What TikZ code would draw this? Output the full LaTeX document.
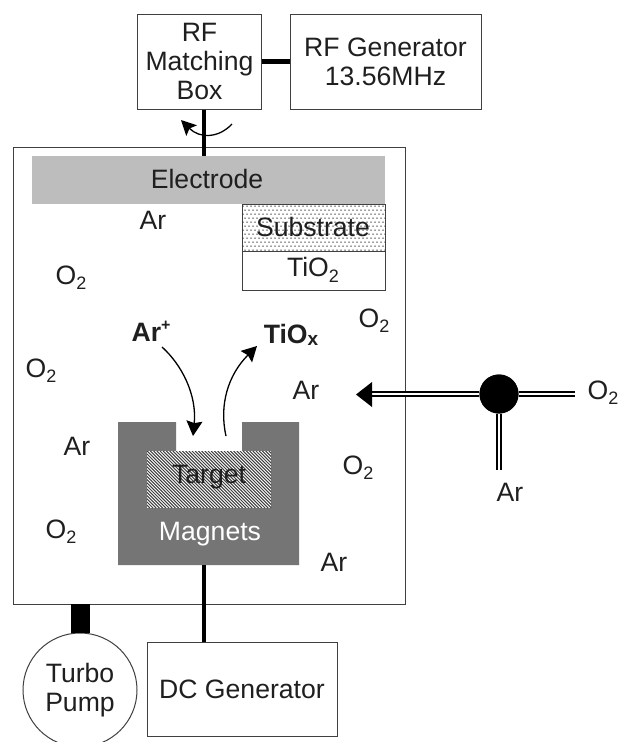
\documentclass[tikz,border=0pt]{standalone}
\usepackage{fontspec}
\setmainfont{Liberation Sans}
\usetikzlibrary{arrows.meta}
\definecolor{edge}{gray}{0.25}
\definecolor{electrodegray}{gray}{0.74}
\definecolor{magnetgray}{gray}{0.46}
\tikzset{
  x=1pt,y=-1pt,
  lbl/.style={inner sep=0pt,font=\fontsize{26.6}{30}\selectfont,align=center,text=black!88},
  boldlbl/.style={lbl,font=\fontsize{26.6}{30}\selectfont\bfseries},
  boxnode/.style={draw=edge,line width=1pt,fill=white,inner sep=0pt,lbl},
  thick link/.style={line width=4.5pt,black},
  pipe/.style={double=white,draw=black,line width=1.8pt,double distance=2pt},
  curved/.style={line width=1.3pt,black},
}
\newcommand{\sub}[1]{\raisebox{-0.2em}{\fontsize{18}{18}\selectfont #1}}
\begin{document}
\begin{tikzpicture}
\useasboundingbox (0,0) rectangle (619,742);
\clip (0,0) rectangle (619,742);
\fill[white] (0,0) rectangle (619,742);
% chamber
\node[draw=edge,line width=1pt,minimum width=392pt,minimum height=457pt,inner sep=0pt] (chamber) at (209,375.5) {};
% electrode
\node[fill=electrodegray,minimum width=353pt,minimum height=48pt,inner sep=0pt] (electrode) at (208.5,180) {};
\node[lbl] (electrodetext) at (207,179) {Electrode};
% RF
\node[boxnode,minimum width=123.5pt,minimum height=95pt] (match) at (199.5,61.5) {RF\\[-1pt]Matching\\[-1pt]Box};
\node[boxnode,minimum width=191pt,minimum height=95pt] (rfgen) at (385.5,61.5) {RF Generator\\[-1pt]13.56MHz};
\draw[thick link] (match.east) -- (rfgen.west);
\draw[thick link] (match.south -| 204,0) -- (204,156);
\coordinate (rotA) at (232,124);
\coordinate (rotB) at (181,120);
\draw[curved,-{Stealth[length=15pt,width=15pt,inset=3pt]}] (rotA) .. controls (219,138) and (200,139) .. (rotB);
% substrate
\node[draw=edge,line width=0.7pt,fill=white,minimum width=143pt,minimum height=47pt,inner sep=0pt] (substrate) at (313.5,227.5) {};
\begin{scope}
\clip (242,204) rectangle (385,251);
\foreach \y in {0,...,11}{\foreach \x in {0,...,35}{
  \fill[black!80] ({243+4*\x+mod(\y,2)*2},{206+4*\y}) circle (0.75);
}}
\end{scope}
\node[lbl] (substratetext) at (313,227) {Substrate};
\node[boxnode,minimum width=143pt,minimum height=39pt] (tio) at (313.5,270.5) {};
\node[lbl] (tiotext) at (313,270) {TiO\sub{2}};
% gases
\node[lbl] (a1) at (153,220) {Ar};
\node[lbl] (o1) at (71,278) {O\sub{2}};
\node[boldlbl] (arplus) at (151,331) {Ar\raisebox{0.42em}{\fontsize{16}{16}\selectfont\bfseries +}};
\node[boldlbl] (tiox) at (291,335) {TiO\raisebox{-0.1em}{\fontsize{19}{19}\selectfont\bfseries x}};
\node[lbl] (o2) at (374,321) {O\sub{2}};
\node[lbl] (o3) at (41,371) {O\sub{2}};
\node[lbl] (a2) at (306,390) {Ar};
\node[lbl] (a3) at (77,446) {Ar};
\node[lbl] (o4) at (358,468) {O\sub{2}};
\node[lbl] (o5) at (61,532) {O\sub{2}};
\node[lbl] (a4) at (334,562) {Ar};
% magnets
\fill[magnetgray] (118,422) -- (176,422) -- (176,451) -- (242,451) -- (242,422) -- (299,422) -- (299,565) -- (118,565) -- cycle;
\coordinate (magnetsbottom) at (204,565);
\begin{scope}
\clip (147,451) rectangle (271,508);
\fill[white] (147,451) rectangle (271,508);
\foreach \i in {0,...,70}{
  \draw[black!75,line width=1pt] ({80+3.2*\i},451) -- ({80+3.2*\i+57},508);
}
\end{scope}
\node[lbl] (targettext) at (209,477) {Target};
\node[lbl,text=white] (magnetstext) at (210,534) {Magnets};
% ion arrows
\coordinate (arstart) at (162,347);
\coordinate (artip) at (193,436);
\coordinate (tistart) at (226,436);
\coordinate (titip) at (257,346);
\draw[curved,-{Stealth[length=15pt,width=16pt,inset=2pt]}] (arstart) .. controls (182,365) and (197,395) .. (artip);
\draw[curved,-{Stealth[length=15pt,width=16pt,inset=2pt]}] (tistart) .. controls (219,405) and (228,375) .. (titip);
% gas line
\node[circle,fill=black,minimum size=39pt,inner sep=0pt] (valve) at (499,394) {};
\coordinate (tipbase) at (371,394);
\coordinate (tiptop) at (372,382);
\coordinate (tipbot) at (372,407);
\coordinate (tip) at (356,394.5);
\coordinate (o2end) at (575,394);
\coordinate (arend) at (499,470);
\draw[pipe] (valve) -- (tipbase);
\draw[pipe] (valve) -- (o2end);
\draw[pipe] (valve) -- (arend);
\fill[black] (tip) -- (tiptop) -- (tipbot) -- cycle;
\node[circle,fill=black,minimum size=39pt,inner sep=0pt] at (valve) {};
\node[lbl] (o6) at (603,393) {O\sub{2}};
\node[lbl] (a5) at (510,492) {Ar};
% bottom
\node[boxnode,minimum width=190pt,minimum height=94pt] (dc) at (242,689) {DC Generator};
\node[draw=edge,line width=1pt,fill=white,circle,minimum size=114pt,inner sep=0pt,lbl] (pump) at (80,690) {Turbo\\[-1pt]Pump};
\draw[line width=19pt,black] (80,604) -- (pump.north);
\draw[thick link] (magnetsbottom) -- (204,642);
\end{tikzpicture}
\end{document}
